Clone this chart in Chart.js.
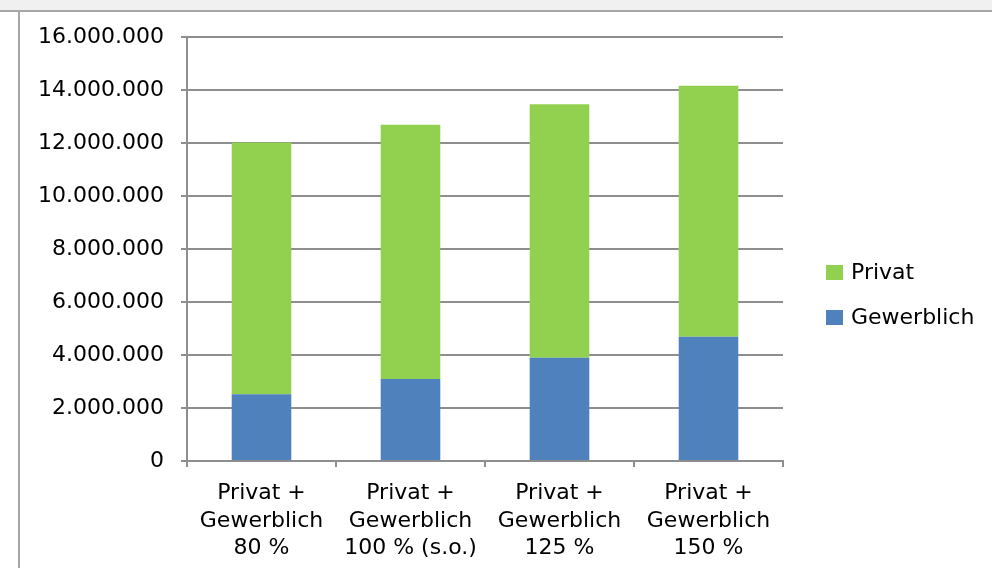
<!DOCTYPE html>
<html><head><meta charset="utf-8">
<script src="https://cdn.jsdelivr.net/npm/chart.js@4"></script>
<style>
html,body{margin:0;padding:0;background:#fff;width:992px;height:568px;overflow:hidden;}
#strip{position:absolute;left:0;top:0;width:992px;height:10px;background:#f0f0f0;border-bottom:2px solid #a6a6a6;}
#frame{position:absolute;left:18px;top:12px;width:1000px;height:600px;border-left:2px solid #a6a6a6;}
#wrap{position:absolute;left:0;top:0;width:992px;height:568px;}
</style></head>
<body><div id="strip"></div><div id="frame"></div>
<div id="wrap"><canvas id="c" width="992" height="568"></canvas></div>
<script>
const categories = [
  ["Privat +", "Gewerblich", "80 %"],
  ["Privat +", "Gewerblich", "100 % (s.o.)"],
  ["Privat +", "Gewerblich", "125 %"],
  ["Privat +", "Gewerblich", "150 %"]
];
const seriesNames = ["Gewerblich", "Privat"];
const gewerblich = [2520000, 3090000, 3900000, 4690000];
const privat = [9500000, 9600000, 9560000, 9470000];
const yMin = 0, yMax = 16000000, yStep = 2000000;

function fmt(v) { return String(v).replace(/\B(?=(\d{3})+(?!\d))/g, '.'); }

const FONT = 'DejaVu Sans';
const GRID = '#8e8e8e';

const legendPlugin = {
  id: 'customLegend',
  afterDraw(chart) {
    const ctx = chart.ctx;
    const ds = chart.data.datasets.slice().reverse();
    const x = 826, y0 = 272, gap = 45;
    ctx.save();
    ctx.font = '22px "' + FONT + '"';
    ctx.textBaseline = 'middle';
    ctx.textAlign = 'left';
    ds.forEach((d, i) => {
      const cy = y0 + i * gap;
      ctx.fillStyle = d.backgroundColor;
      ctx.fillRect(x, cy - 7, 17, 15);
      ctx.fillStyle = '#000';
      ctx.fillText(d.label, x + 25, cy + 1);
    });
    ctx.restore();
  }
};

new Chart(document.getElementById('c'), {
  type: 'bar',
  data: {
    labels: categories,
    datasets: [
      { label: seriesNames[0], data: gewerblich, backgroundColor: '#4F81BD', borderWidth: 0, barPercentage: 0.8, categoryPercentage: 0.5 },
      { label: seriesNames[1], data: privat, backgroundColor: '#92D050', borderWidth: 0, barPercentage: 0.8, categoryPercentage: 0.5 }
    ]
  },
  options: {
    responsive: false,
    animation: false,
    layout: { padding: { left: 0, right: 209, top: 37, bottom: 0 } },
    plugins: { legend: { display: false }, tooltip: { enabled: false } },
    scales: {
      x: {
        stacked: true,
        grid: { display: true, offset: true, drawOnChartArea: false, drawTicks: true, tickLength: 6, color: GRID, lineWidth: 2 },
        border: { display: true, color: GRID, width: 2 },
        ticks: { color: '#000', font: { family: FONT, size: 22, lineHeight: 1.25 }, padding: 13, maxRotation: 0, autoSkip: false },
        afterFit(s) { s.height = 107; }
      },
      y: {
        stacked: true,
        min: yMin, max: yMax,
        ticks: { stepSize: yStep, callback: v => fmt(v), color: '#000', font: { family: FONT, size: 22 }, padding: 17 },
        grid: { color: GRID, lineWidth: 2, tickLength: 6 },
        border: { color: GRID, width: 2 },
        afterFit(s) { s.width = 187; }
      }
    }
  },
  plugins: [legendPlugin]
});
</script>
</body></html>
